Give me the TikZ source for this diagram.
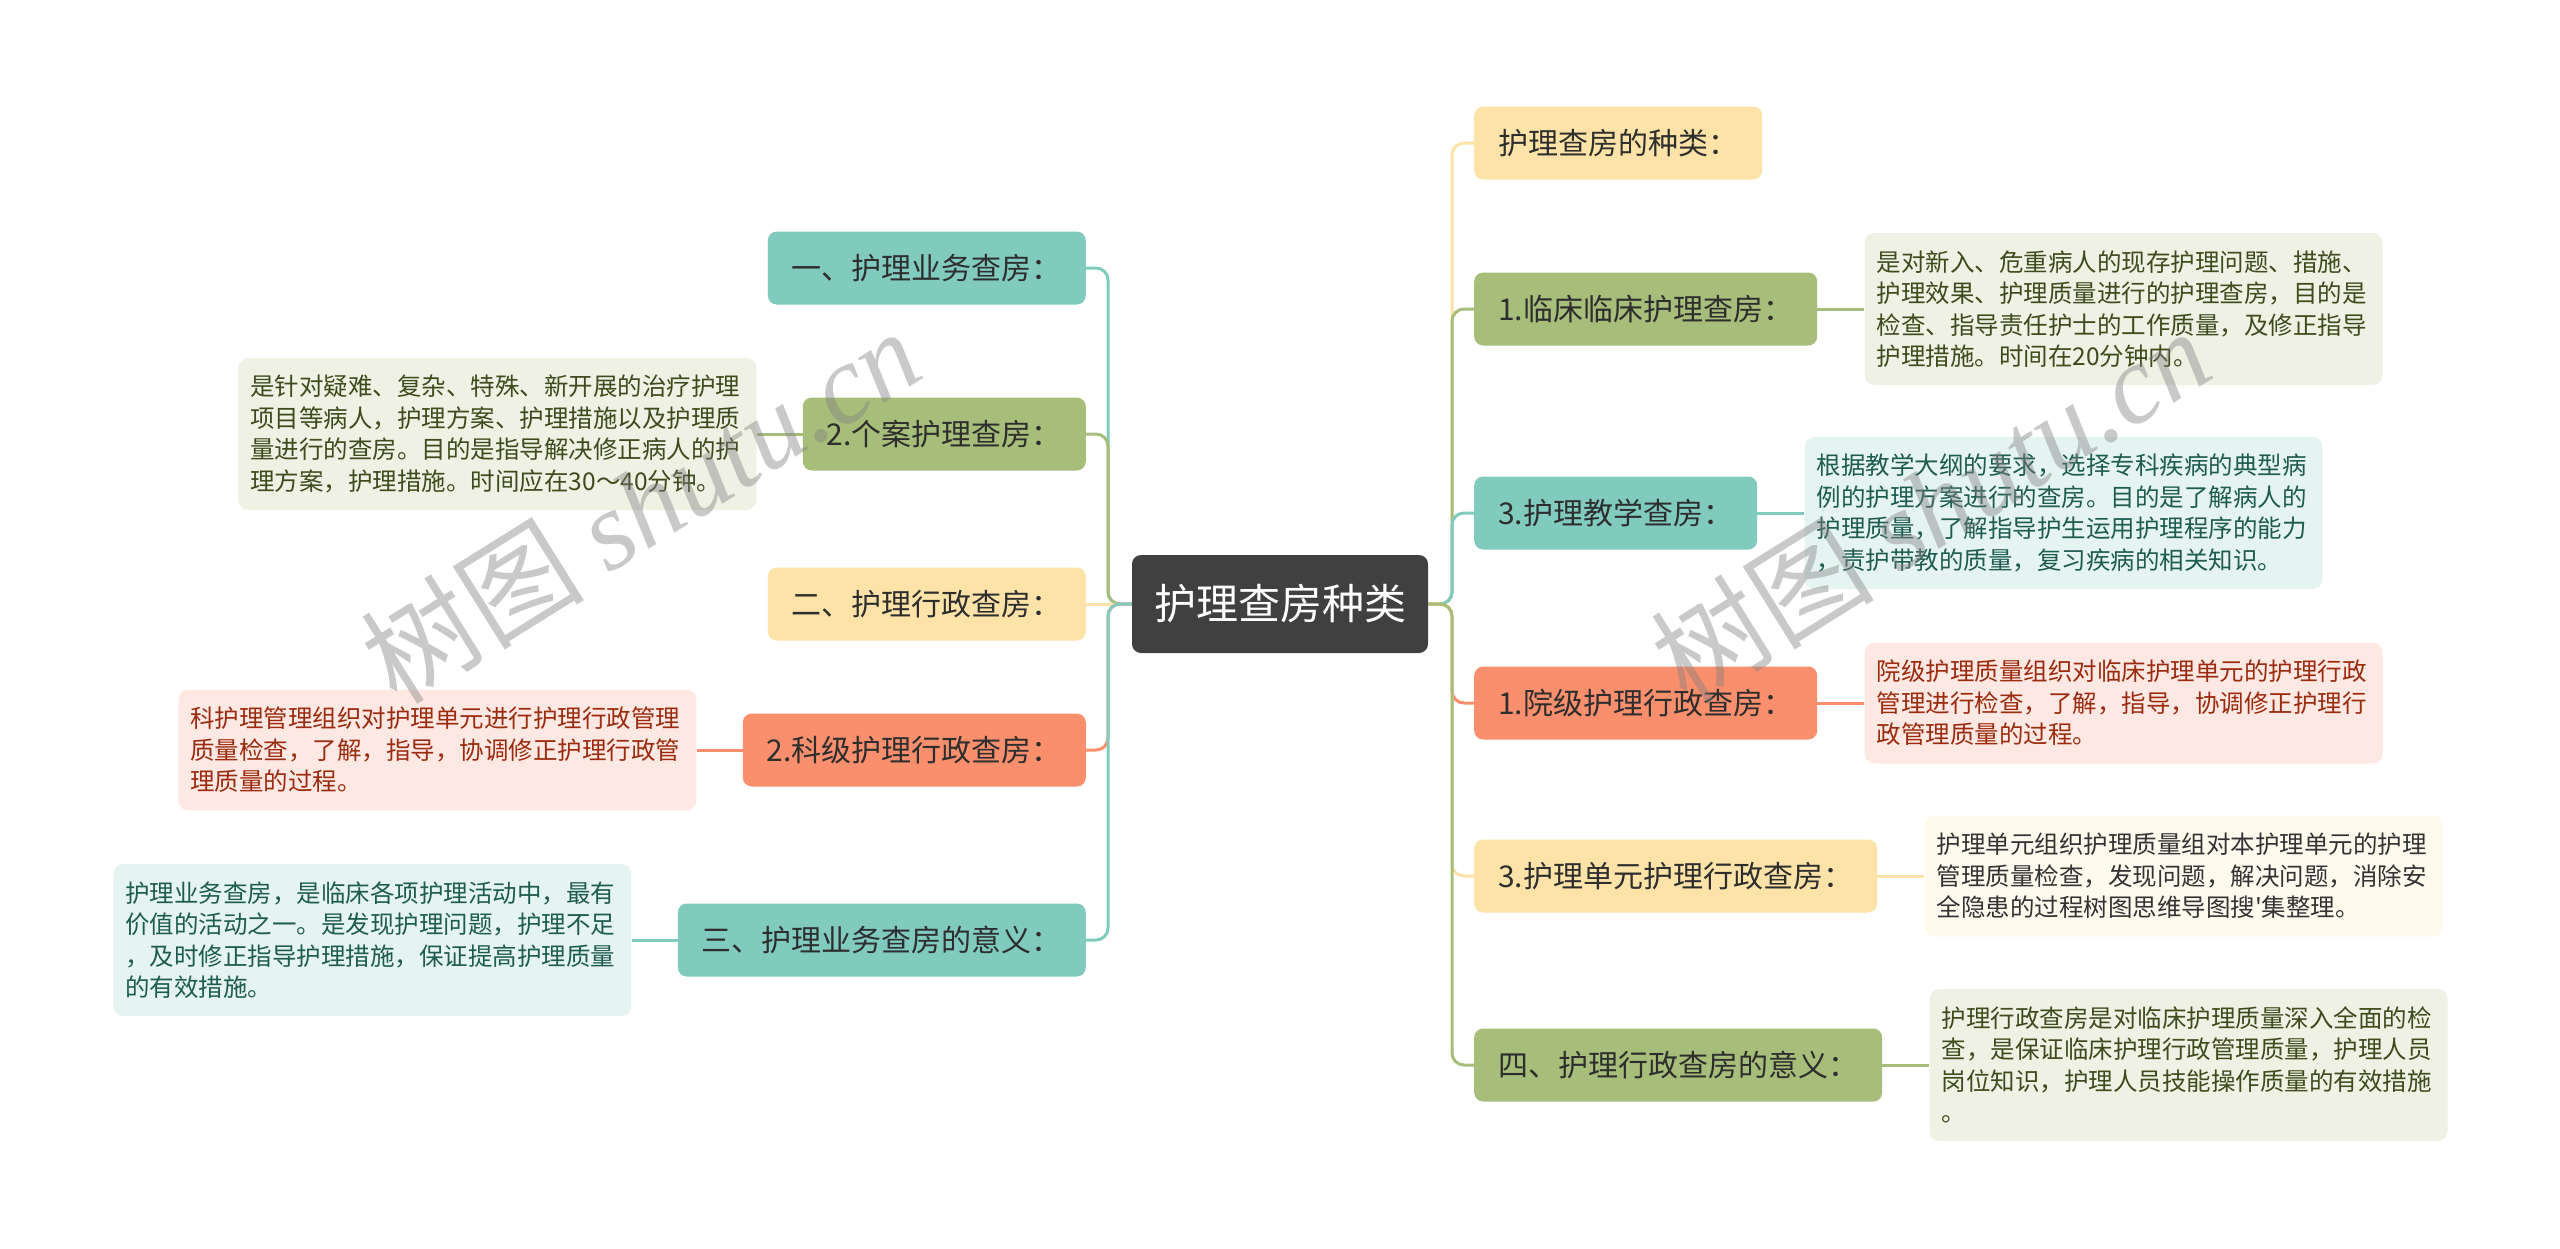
\documentclass[tikz,border=0pt]{standalone}
\usepackage{fontspec}
\setmainfont{Noto Sans CJK SC}
\newfontfamily\wmserif{Liberation Serif}
\newfontfamily\wmcjk{Noto Sans CJK SC}
\usetikzlibrary{positioning}
\definecolor{cteal}{HTML}{80CBBE}
\definecolor{cgreen}{HTML}{A6BE7A}
\definecolor{cyellow}{HTML}{FDE3A8}
\definecolor{csalmon}{HTML}{FA8F6D}
\definecolor{cdark}{HTML}{404040}
\definecolor{ngreen}{HTML}{EEF1E4}
\definecolor{nteal}{HTML}{E5F4F0}
\definecolor{npink}{HTML}{FEE8E3}
\definecolor{ncream}{HTML}{FEFAEE}
\definecolor{tgreen}{HTML}{3F4B1D}
\definecolor{tteal}{HTML}{1E5C50}
\definecolor{tpink}{HTML}{9B2B0E}
\definecolor{tcream}{HTML}{333333}
\definecolor{tmain}{HTML}{2E2E2E}
\tikzset{
  mainbox/.style={rounded corners=9pt, minimum height=73pt, inner xsep=24pt, inner ysep=0pt,
    font=\fontsize{30}{36}\selectfont, text=tmain},
  notebox/.style={rounded corners=10pt, minimum width=518pt, text width=494pt, inner xsep=12pt,
    inner ysep=0pt, align=left, font=\fontsize{24.5}{31.5}\selectfont},
  link/.style={line width=3pt, rounded corners=12pt},
  wmark/.style={rotate=32, text=black!50, opacity=0.42, font=\fontsize{112}{120}\selectfont}
}
\begin{document}
\begin{tikzpicture}[x=1pt, y=-1pt]
\useasboundingbox[fill=white] (0,0) rectangle (2560,1248);

% centre
\node[mainbox, fill=cdark, text=white, font=\fontsize{42}{50}\selectfont,
  minimum width=296pt, minimum height=98pt, inner xsep=22pt] (ctr) at (1280,604) {护理查房种类};
\coordinate (LT) at (1108,604);
\coordinate (RT) at (1452,604);

% left branch nodes
\node[mainbox, fill=cteal, anchor=east] (l1) at (1086,268) {一、护理业务查房：};
\node[mainbox, fill=cgreen, anchor=east] (l2) at (1086,434) {2.个案护理查房：};
\node[mainbox, fill=cyellow, anchor=east] (l3) at (1086,604) {二、护理行政查房：};
\node[mainbox, fill=csalmon, anchor=east] (l4) at (1086,750) {2.科级护理行政查房：};
\node[mainbox, fill=cteal, anchor=east] (l5) at (1086,940) {三、护理业务查房的意义：};

\node[notebox, fill=ngreen, text=tgreen, minimum height=152pt, left=46pt of l2] (n2) {是针对疑难、复杂、特殊、新开展的治疗护理\\项目等病人，护理方案、护理措施以及护理质\\量进行的查房。目的是指导解决修正病人的护\\理方案，护理措施。时间应在30～40分钟。};
\node[notebox, fill=npink, text=tpink, minimum height=121pt, left=46pt of l4] (n4) {科护理管理组织对护理单元进行护理行政管理\\质量检查，了解，指导，协调修正护理行政管\\理质量的过程。};
\node[notebox, fill=nteal, text=tteal, minimum height=152pt, left=46pt of l5] (n5) {护理业务查房，是临床各项护理活动中，最有\\价值的活动之一。是发现护理问题，护理不足\\，及时修正指导护理措施，保证提高护理质量\\的有效措施。};

% right branch nodes
\node[mainbox, fill=cyellow, anchor=west] (r1) at (1474,143) {护理查房的种类：};
\node[mainbox, fill=cgreen, anchor=west] (r2) at (1474,309) {1.临床临床护理查房：};
\node[mainbox, fill=cteal, anchor=west] (r3) at (1474,513) {3.护理教学查房：};
\node[mainbox, fill=csalmon, anchor=west] (r4) at (1474,703) {1.院级护理行政查房：};
\node[mainbox, fill=cyellow, anchor=west] (r5) at (1474,876) {3.护理单元护理行政查房：};
\node[mainbox, fill=cgreen, anchor=west] (r6) at (1474,1065) {四、护理行政查房的意义：};

\node[notebox, fill=ngreen, text=tgreen, minimum height=152pt, right=47pt of r2] (m2) {是对新入、危重病人的现存护理问题、措施、\\护理效果、护理质量进行的护理查房，目的是\\检查、指导责任护士的工作质量，及修正指导\\护理措施。时间在20分钟内。};
\node[notebox, fill=nteal, text=tteal, minimum height=152pt, right=47pt of r3] (m3) {根据教学大纲的要求，选择专科疾病的典型病\\例的护理方案进行的查房。目的是了解病人的\\护理质量，了解指导护生运用护理程序的能力\\，责护带教的质量，复习疾病的相关知识。};
\node[notebox, fill=npink, text=tpink, minimum height=121pt, right=47pt of r4] (m4) {院级护理质量组织对临床护理单元的护理行政\\管理进行检查，了解，指导，协调修正护理行\\政管理质量的过程。};
\node[notebox, fill=ncream, text=tcream, minimum height=121pt, right=47pt of r5] (m5) {护理单元组织护理质量组对本护理单元的护理\\管理质量检查，发现问题，解决问题，消除安\\全隐患的过程树图思维导图搜{\addfontfeatures{Ligatures=TeXOff}'}集整理。};
\node[notebox, fill=ngreen, text=tgreen, minimum height=152pt, right=47pt of r6] (m6) {护理行政查房是对临床护理质量深入全面的检\\查，是保证临床护理行政管理质量，护理人员\\岗位知识，护理人员技能操作质量的有效措施\\。};

% left connectors
\draw[link, cteal] (ctr.west) -- (LT) |- (l1.east);
\draw[link, cgreen] (ctr.west) -- (LT) |- (l2.east);
\draw[link, cyellow] (ctr.west) -- (l3.east);
\draw[link, csalmon] (ctr.west) -- (LT) |- (l4.east);
\draw[link, cteal] (ctr.west) -- (LT) |- (l5.east);
\draw[link, cgreen] (l2.west) -- (n2.east);
\draw[link, csalmon] (l4.west) -- (n4.east);
\draw[link, cteal] (l5.west) -- (n5.east);
% right connectors
\draw[link, cyellow] (ctr.east) -- (RT) |- (r1.west);
\draw[link, cgreen] (ctr.east) -- (RT) |- (r2.west);
\draw[link, cteal] (ctr.east) -- (RT) |- (r3.west);
\draw[link, csalmon] (ctr.east) -- (RT) |- (r4.west);
\draw[link, cyellow] (ctr.east) -- (RT) |- (r5.west);
\draw[link, cgreen] (ctr.east) -- (RT) |- (r6.west);
\draw[link, cgreen] (r2.east) -- (m2.west);
\draw[link, cteal] (r3.east) -- (m3.west);
\draw[link, csalmon] (r4.east) -- (m4.west);
\draw[link, cyellow] (r5.east) -- (m5.west);
\draw[link, cgreen] (r6.east) -- (m6.west);

% watermarks
\node[wmark] (wm1) at (640,505) {{\wmcjk 树图} {\wmserif\itshape shutu.cn}};
\node[wmark] (wm2) at (1930,505) {{\wmcjk 树图} {\wmserif\itshape shutu.cn}};
\end{tikzpicture}
\end{document}
